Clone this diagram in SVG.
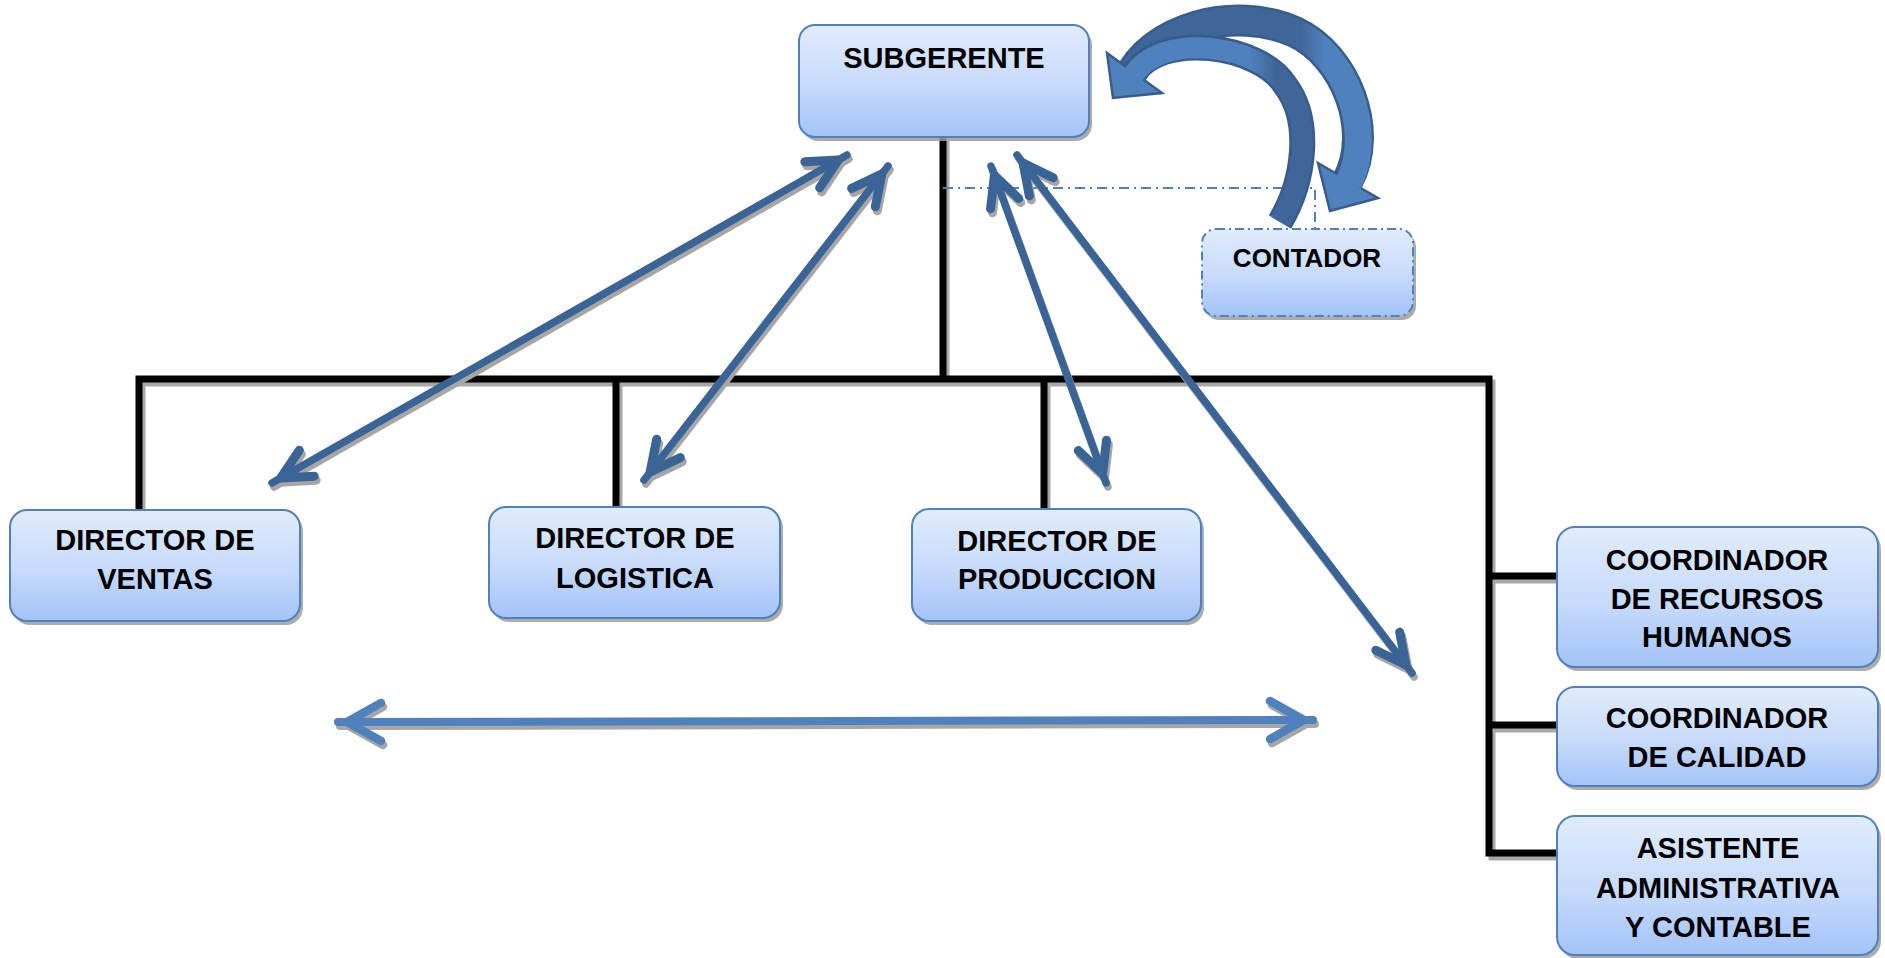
<svg xmlns="http://www.w3.org/2000/svg" width="1885" height="958" viewBox="0 0 1885 958">
  <defs>
    <linearGradient id="boxFill" x1="0" y1="0" x2="0" y2="1">
      <stop offset="0" stop-color="#E1ECFD"/>
      <stop offset="0.55" stop-color="#C6DAFB"/>
      <stop offset="1" stop-color="#A3C3F8"/>
    </linearGradient>
    <linearGradient id="shadeA" gradientUnits="userSpaceOnUse" x1="1250" y1="0" x2="1275" y2="0">
      <stop offset="0" stop-color="#4F81BD"/>
      <stop offset="1" stop-color="#3F6698"/>
    </linearGradient>
    <linearGradient id="shadeB" gradientUnits="userSpaceOnUse" x1="1300" y1="0" x2="1325" y2="0">
      <stop offset="0" stop-color="#3F6698"/>
      <stop offset="1" stop-color="#4F81BD"/>
    </linearGradient>
    <marker id="hd" viewBox="-50 -25 60 50" markerWidth="60" markerHeight="50" refX="0" refY="0" orient="auto-start-reverse" markerUnits="userSpaceOnUse">
      <path d="M-40,-15 L-10,0 L-40,15" fill="none" stroke="#3A6496" stroke-width="9" stroke-linecap="round" stroke-linejoin="miter"/>
    </marker>
    <marker id="hdShadow" viewBox="-50 -25 60 50" markerWidth="60" markerHeight="50" refX="0" refY="0" orient="auto-start-reverse" markerUnits="userSpaceOnUse">
      <path d="M-40,-15 L-10,0 L-40,15" fill="none" stroke="#A6A6A6" stroke-width="9" stroke-linecap="round" stroke-linejoin="miter"/>
    </marker>
    <marker id="hdLight" viewBox="-50 -25 60 50" markerWidth="60" markerHeight="50" refX="0" refY="0" orient="auto-start-reverse" markerUnits="userSpaceOnUse">
      <path d="M-43,-19 L-9,0 L-43,19" fill="none" stroke="#4F81BD" stroke-width="8.5" stroke-linecap="round" stroke-linejoin="miter"/>
    </marker>
    <marker id="hdLightShadow" viewBox="-50 -25 60 50" markerWidth="60" markerHeight="50" refX="0" refY="0" orient="auto-start-reverse" markerUnits="userSpaceOnUse">
      <path d="M-43,-19 L-9,0 L-43,19" fill="none" stroke="#A6A6A6" stroke-width="8.5" stroke-linecap="round" stroke-linejoin="miter"/>
    </marker>
  </defs>
  <style>
    .box { fill: url(#boxFill); stroke: #4F81BD; stroke-width: 2; }
    .dashed { stroke-dasharray: 9 4 2 4; }
    .shadow { fill: #9E9E9E; opacity: 0.85; }
    .label { font-family: "Liberation Sans", Arial, sans-serif; font-weight: bold; font-size: 29px; fill: #000; text-anchor: middle; }
    .small { font-size: 26px; }
    .bus { fill: none; stroke: #000; stroke-width: 7; stroke-linejoin: miter; }
    .busShadow { fill: none; stroke: #A8A8A8; stroke-width: 7; stroke-linejoin: miter; }
    .link { fill: none; stroke: #3A6496; stroke-width: 7.5; stroke-linecap: round; marker-start: url(#hd); marker-end: url(#hd); }
    .linkShadow { fill: none; stroke: #A6A6A6; stroke-width: 7.5; stroke-linecap: round; marker-start: url(#hdShadow); marker-end: url(#hdShadow); }
    .linkLight { fill: none; stroke: #4F81BD; stroke-width: 8; stroke-linecap: round; marker-start: url(#hdLight); marker-end: url(#hdLight); }
    .linkLightShadow { fill: none; stroke: #A6A6A6; stroke-width: 8; stroke-linecap: round; marker-start: url(#hdLightShadow); marker-end: url(#hdLightShadow); }
    .staff { fill: none; stroke: #4F81BD; stroke-width: 2; stroke-dasharray: 10 5 2 5; }
    .curveEdge { fill: none; stroke: #385D8A; stroke-linecap: butt; }
    .curveHead { fill: #4F81BD; stroke: #385D8A; stroke-width: 2.5; stroke-linejoin: miter; }
  </style>

  <rect width="1885" height="958" fill="#FFFFFF"/>

  <!-- reporting lines -->
  <g id="connectors">
    <g transform="translate(3,4)">
      <path class="busShadow" d="M943,137 V379"/>
      <path class="busShadow" d="M139,510 V379 H1489 V853 H1557"/>
      <path class="busShadow" d="M616,379 V507"/>
      <path class="busShadow" d="M1044,379 V509"/>
      <path class="busShadow" d="M1489,576 H1557"/>
      <path class="busShadow" d="M1489,725 H1557"/>
    </g>
    <path class="bus" d="M943,137 V379"/>
    <path class="bus" d="M139,510 V379 H1489 V853 H1557"/>
    <path class="bus" d="M616,379 V507"/>
    <path class="bus" d="M1044,379 V509"/>
    <path class="bus" d="M1489,576 H1557"/>
    <path class="bus" d="M1489,725 H1557"/>

    <!-- staff line to the accountant -->
    <path class="staff" d="M943,188 H1315 V229"/>

    <!-- two-way communication arrows -->
    <g transform="translate(2,4)">
      <path class="linkShadow" d="M847,155 L272,483"/>
      <path class="linkShadow" d="M888,166 L644,480"/>
      <path class="linkShadow" d="M991,166 L1106,483"/>
      <path class="linkShadow" d="M1017,155 L1412,673"/>
      <path class="linkLightShadow" d="M338,722 L1313,720"/>
    </g>
    <path class="link" d="M847,155 L272,483"/>
    <path class="link" d="M888,166 L644,480"/>
    <path class="link" d="M991,166 L1106,483"/>
    <path class="link" d="M1017,155 L1412,673"/>
    <path class="linkLight" d="M338,722 L1313,720"/>

    <!-- curved feedback arrows between SUBGERENTE and CONTADOR -->
    <g id="curve-out">
      <path class="curveEdge" stroke-width="32" d="M1128,80 C1150,28 1235,5 1295,32 C1345,55 1375,130 1347.5,181"/>
      <polygon class="curveHead" points="1318,163 1378,198 1330,211"/>
      <path fill="none" stroke="url(#shadeB)" stroke-width="27" d="M1128,80 C1150,28 1235,5 1295,32 C1345,55 1375,130 1348.5,183"/>
    </g>
    <g id="curve-back">
      <path class="curveEdge" stroke-width="26" d="M1280,222 C1305,180 1312,120 1285,85 C1260,45 1160,30 1133,75"/>
      <polygon class="curveHead" points="1107,53 1162,93 1113,98"/>
      <path fill="none" stroke="url(#shadeA)" stroke-width="21" d="M1280,222 C1305,180 1312,120 1285,85 C1260,45 1160,30 1132,77"/>
    </g>
  </g>

  <g id="subgerente">
    <rect class="shadow" x="802" y="29" width="290" height="112" rx="16"/>
    <rect class="box" x="799" y="25" width="290" height="112" rx="16"/>
    <text class="label" x="944" y="68">SUBGERENTE</text>
  </g>

  <g id="contador">
    <rect class="shadow" x="1205" y="233" width="211" height="87" rx="14"/>
    <rect class="box dashed" x="1202" y="229" width="211" height="87" rx="14"/>
    <text class="label small" x="1307" y="267">CONTADOR</text>
  </g>

  <g id="director-ventas">
    <rect class="shadow" x="13" y="514" width="290" height="111" rx="17"/>
    <rect class="box" x="10" y="510" width="290" height="111" rx="17"/>
    <text class="label" x="155" y="550">DIRECTOR DE</text>
    <text class="label" x="155" y="589">VENTAS</text>
  </g>

  <g id="director-logistica">
    <rect class="shadow" x="492" y="511" width="291" height="111" rx="17"/>
    <rect class="box" x="489" y="507" width="291" height="111" rx="17"/>
    <text class="label" x="635" y="548">DIRECTOR DE</text>
    <text class="label" x="635" y="588">LOGISTICA</text>
  </g>

  <g id="director-produccion">
    <rect class="shadow" x="915" y="513" width="289" height="112" rx="17"/>
    <rect class="box" x="912" y="509" width="289" height="112" rx="17"/>
    <text class="label" x="1057" y="551">DIRECTOR DE</text>
    <text class="label" x="1057" y="589">PRODUCCION</text>
  </g>

  <g id="coordinador-rrhh">
    <rect class="shadow" x="1560" y="531" width="321" height="140" rx="18"/>
    <rect class="box" x="1557" y="527" width="321" height="140" rx="18"/>
    <text class="label" x="1717" y="570">COORDINADOR</text>
    <text class="label" x="1717" y="609">DE RECURSOS</text>
    <text class="label" x="1717" y="647">HUMANOS</text>
  </g>

  <g id="coordinador-calidad">
    <rect class="shadow" x="1560" y="691" width="321" height="99" rx="18"/>
    <rect class="box" x="1557" y="687" width="321" height="99" rx="18"/>
    <text class="label" x="1717" y="728">COORDINADOR</text>
    <text class="label" x="1717" y="767">DE CALIDAD</text>
  </g>

  <g id="asistente">
    <rect class="shadow" x="1560" y="820" width="321" height="139" rx="18"/>
    <rect class="box" x="1557" y="816" width="321" height="139" rx="18"/>
    <text class="label" x="1718" y="858">ASISTENTE</text>
    <text class="label" x="1718" y="898">ADMINISTRATIVA</text>
    <text class="label" x="1718" y="937">Y CONTABLE</text>
  </g>
</svg>
